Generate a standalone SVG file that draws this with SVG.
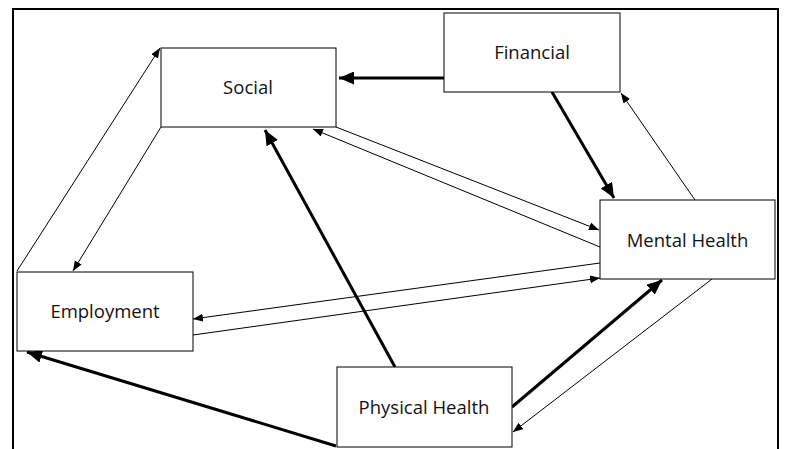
<svg xmlns="http://www.w3.org/2000/svg" width="785" height="449" viewBox="0 0 785 449">
<style>
.box{fill:#fff;stroke:#000;stroke-width:1}
.lbl{font-family:"Open Sans","Noto Sans",sans-serif;font-size:18.5px;fill:#111;text-anchor:middle}
.thin{fill:none;stroke:#000;stroke-width:1}
.thick{fill:none;stroke:#000;stroke-width:3}
.frame{fill:none;stroke:#000;stroke-width:2}
</style>
<defs>
<marker id="a1" markerUnits="userSpaceOnUse" markerWidth="11" markerHeight="9" refX="10" refY="4" orient="auto"><path d="M0,0 L10,4 L0,8 z" fill="#000"/></marker>
<marker id="a2" markerUnits="userSpaceOnUse" markerWidth="16" markerHeight="13" refX="15" refY="6.5" orient="auto"><path d="M0,0 L15,6.5 L0,13 z" fill="#000"/></marker>
</defs>
<rect width="785" height="449" fill="#fff"/>
<path class="frame" d="M13,460 V9 H778 V460"/>
<g id="connectors">
<line class="thick" x1="444" y1="78" x2="339" y2="78" marker-end="url(#a2)"/>
<line class="thick" x1="552" y1="92" x2="614" y2="198" marker-end="url(#a2)"/>
<line class="thick" x1="395" y1="367" x2="265" y2="130" marker-end="url(#a2)"/>
<line class="thick" x1="336" y1="446" x2="27" y2="352" marker-end="url(#a2)"/>
<line class="thick" x1="512" y1="407" x2="662" y2="280" marker-end="url(#a2)"/>
<line class="thin" x1="695" y1="200" x2="621" y2="93" marker-end="url(#a1)"/>
<line class="thin" x1="336" y1="127" x2="599" y2="230" marker-end="url(#a1)"/>
<line class="thin" x1="600" y1="247" x2="313" y2="129" marker-end="url(#a1)"/>
<line class="thin" x1="161" y1="127" x2="73" y2="271" marker-end="url(#a1)"/>
<line class="thin" x1="17" y1="271" x2="160" y2="48" marker-end="url(#a1)"/>
<line class="thin" x1="600" y1="263" x2="193" y2="319" marker-end="url(#a1)"/>
<line class="thin" x1="193" y1="335" x2="600" y2="278" marker-end="url(#a1)"/>
<line class="thin" x1="712" y1="279" x2="513" y2="432" marker-end="url(#a1)"/>
</g>
<g id="social"><rect class="box" x="161" y="48" width="175" height="79"/><text class="lbl" x="248" y="94">Social</text></g>
<g id="financial"><rect class="box" x="444" y="13" width="176" height="79"/><text class="lbl" x="532" y="59">Financial</text></g>
<g id="mental"><rect class="box" x="600" y="200" width="175" height="79"/><text class="lbl" x="687.5" y="246.5">Mental Health</text></g>
<g id="employment"><rect class="box" x="17" y="272" width="176" height="79"/><text class="lbl" x="105" y="318">Employment</text></g>
<g id="physical"><rect class="box" x="337" y="367" width="175" height="80"/><text class="lbl" x="424" y="414">Physical Health</text></g>
</svg>
